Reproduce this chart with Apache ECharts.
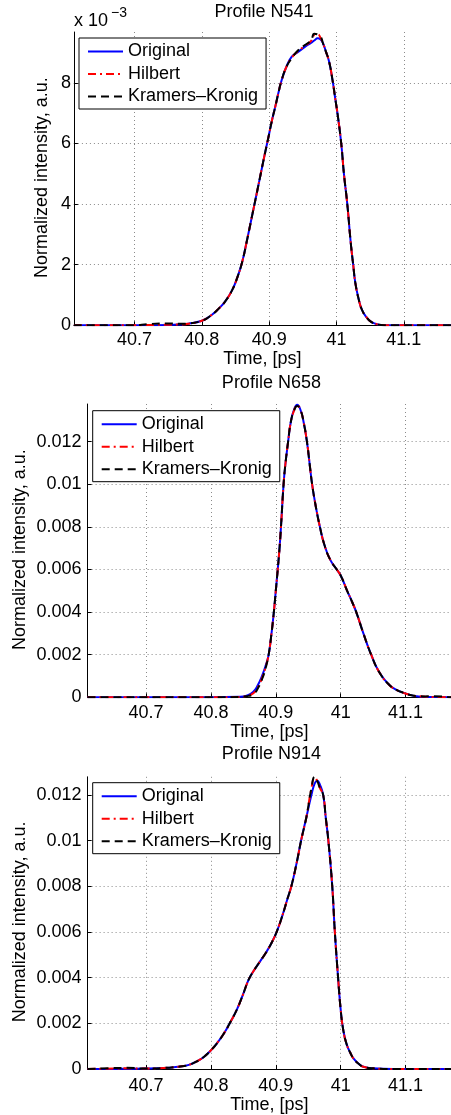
<!DOCTYPE html>
<html><head><meta charset="utf-8">
<script src="https://cdn.jsdelivr.net/npm/echarts@6/dist/echarts.min.js"></script>
<style>html,body{margin:0;padding:0;background:#fff}#c{width:451px;height:1115px}</style>
</head><body><div id="c"></div><script>
// ---------- data ----------
const titles = ['Profile N541', 'Profile N658', 'Profile N914'];
const seriesNames = ['Original', 'Hilbert', 'Kramers–Kronig'];
const xLabel = 'Time, [ps]';
const yLabel = 'Normalized intensity, a.u.';
const xRange = [40.61, 41.17];
const yMax = [9.68e-3, 13.77e-3, 12.79e-3];
const yStep = 0.002;

// Panel 1 (N541)
const t1 = [40.61,40.70,40.72,40.75,40.77,40.78,40.80,40.812,40.825,40.835,40.845,40.853,40.86,40.867,40.874,40.881,40.887,40.893,40.899,40.904,40.909,40.914,40.918,40.925,40.933,40.943,40.953,40.962,40.967,40.972,40.976,40.980,40.984,40.989,40.994,40.998,41.002,41.007,41.011,41.016,41.021,41.025,41.028,41.033,41.038,41.045,41.051,41.058,41.066,41.08,41.17];
const orig1 = [0,0,0.003e-3,0.01e-3,0.03e-3,0.05e-3,0.15e-3,0.3e-3,0.55e-3,0.8e-3,1.16e-3,1.6e-3,2.1e-3,2.8e-3,3.55e-3,4.3e-3,4.95e-3,5.6e-3,6.22e-3,6.75e-3,7.21e-3,7.7e-3,8.05e-3,8.5e-3,8.85e-3,9.02e-3,9.19e-3,9.32e-3,9.4e-3,9.47e-3,9.44e-3,9.3e-3,9.05e-3,8.7e-3,8.1e-3,7.5e-3,6.9e-3,6.0e-3,5.0e-3,4.0e-3,2.75e-3,1.95e-3,1.39e-3,0.85e-3,0.5e-3,0.25e-3,0.12e-3,0.05e-3,0.01e-3,0,0];
const hilb1 = [0,0,0.01e-3,0.02e-3,0.03e-3,0.05e-3,0.15e-3,0.3e-3,0.55e-3,0.8e-3,1.16e-3,1.6e-3,2.1e-3,2.8e-3,3.55e-3,4.3e-3,4.95e-3,5.6e-3,6.22e-3,6.75e-3,7.21e-3,7.7e-3,8.05e-3,8.5e-3,8.82e-3,9.05e-3,9.22e-3,9.38e-3,9.58e-3,9.6e-3,9.5e-3,9.3e-3,9.05e-3,8.7e-3,8.1e-3,7.5e-3,6.9e-3,6.0e-3,5.0e-3,4.0e-3,2.75e-3,1.95e-3,1.39e-3,0.85e-3,0.5e-3,0.25e-3,0.12e-3,0.05e-3,0.01e-3,0,0];
const kk1 = [0,0,0.04e-3,0.06e-3,0.05e-3,0.06e-3,0.15e-3,0.3e-3,0.55e-3,0.8e-3,1.16e-3,1.6e-3,2.1e-3,2.8e-3,3.55e-3,4.3e-3,4.95e-3,5.6e-3,6.22e-3,6.75e-3,7.21e-3,7.7e-3,8.05e-3,8.5e-3,8.8e-3,9.08e-3,9.25e-3,9.4e-3,9.62e-3,9.6e-3,9.55e-3,9.3e-3,9.05e-3,8.7e-3,8.1e-3,7.5e-3,6.9e-3,6.0e-3,5.0e-3,4.0e-3,2.75e-3,1.95e-3,1.39e-3,0.85e-3,0.5e-3,0.25e-3,0.12e-3,0.05e-3,0.01e-3,0,0];

// Panel 2 (N658)
const t2 = [40.61,40.80,40.845,40.855,40.865,40.872,40.880,40.885,40.889,40.893,40.897,40.900,40.903,40.906,40.908,40.912,40.915,40.919,40.923,40.928,40.933,40.938,40.943,40.948,40.952,40.956,40.962,40.968,40.975,40.984,40.994,41.000,41.010,41.018,41.024,41.035,41.047,41.060,41.075,41.086,41.096,41.111,41.12,41.13,41.14,41.17];
const orig2 = [0,0,0.02e-3,0.08e-3,0.25e-3,0.55e-3,1.1e-3,1.55e-3,2.0e-3,2.9e-3,4.0e-3,5.0e-3,6.0e-3,7.1e-3,8.0e-3,10.0e-3,11.0e-3,12.0e-3,12.9e-3,13.5e-3,13.73e-3,13.5e-3,12.9e-3,12.0e-3,11.0e-3,10.0e-3,8.9e-3,8.0e-3,7.15e-3,6.45e-3,6.0e-3,5.72e-3,5.0e-3,4.45e-3,4.0e-3,3.0e-3,2.0e-3,1.15e-3,0.58e-3,0.35e-3,0.22e-3,0.08e-3,0.04e-3,0.02e-3,0.01e-3,0];
const hilb2 = [0,0,0.02e-3,0.06e-3,0.18e-3,0.45e-3,1.0e-3,1.5e-3,2.0e-3,2.9e-3,4.0e-3,5.0e-3,6.0e-3,7.1e-3,8.0e-3,10.0e-3,11.0e-3,12.0e-3,12.9e-3,13.45e-3,13.7e-3,13.5e-3,12.9e-3,12.0e-3,11.0e-3,10.0e-3,8.9e-3,8.0e-3,7.15e-3,6.45e-3,6.0e-3,5.72e-3,5.0e-3,4.45e-3,4.0e-3,3.0e-3,2.0e-3,1.15e-3,0.58e-3,0.35e-3,0.22e-3,0.08e-3,0.05e-3,0.03e-3,0.02e-3,0];
const kk2 = [0,0,0.02e-3,0.05e-3,0.15e-3,0.4e-3,0.95e-3,1.45e-3,2.0e-3,2.9e-3,4.0e-3,5.0e-3,6.0e-3,7.1e-3,8.0e-3,10.0e-3,11.0e-3,12.0e-3,12.9e-3,13.45e-3,13.68e-3,13.5e-3,12.9e-3,12.0e-3,11.0e-3,10.0e-3,8.9e-3,8.0e-3,7.15e-3,6.45e-3,6.0e-3,5.72e-3,5.0e-3,4.45e-3,4.0e-3,3.0e-3,2.0e-3,1.15e-3,0.58e-3,0.35e-3,0.22e-3,0.08e-3,0.06e-3,0.04e-3,0.05e-3,0];

// Panel 3 (N914)
const t3 = [40.61,40.65,40.67,40.70,40.736,40.75,40.766,40.78,40.79,40.801,40.81,40.82,40.829,40.84,40.85,40.858,40.866,40.875,40.885,40.894,40.902,40.910,40.918,40.924,40.932,40.939,40.947,40.955,40.960,40.964,40.968,40.973,40.977,40.981,40.987,40.991,40.996,41.000,41.004,41.009,41.015,41.020,41.028,41.035,41.05,41.08,41.17];
const orig3 = [0,0.005e-3,0.01e-3,0.02e-3,0.06e-3,0.1e-3,0.18e-3,0.36e-3,0.55e-3,0.85e-3,1.15e-3,1.55e-3,2.0e-3,2.6e-3,3.3e-3,3.9e-3,4.3e-3,4.68e-3,5.1e-3,5.55e-3,6.05e-3,6.7e-3,7.45e-3,8.0e-3,9.0e-3,10.0e-3,11.0e-3,12.0e-3,12.5e-3,12.62e-3,12.45e-3,12.0e-3,11.0e-3,10.0e-3,8.0e-3,6.0e-3,4.0e-3,2.6e-3,1.7e-3,1.1e-3,0.7e-3,0.45e-3,0.22e-3,0.1e-3,0.03e-3,0,0];
const hilb3 = [0,0.02e-3,0.03e-3,0.02e-3,0.06e-3,0.1e-3,0.18e-3,0.36e-3,0.55e-3,0.85e-3,1.15e-3,1.55e-3,2.0e-3,2.6e-3,3.3e-3,3.9e-3,4.3e-3,4.68e-3,5.1e-3,5.55e-3,6.05e-3,6.7e-3,7.45e-3,8.0e-3,9.0e-3,10.0e-3,11.0e-3,12.3e-3,12.75e-3,12.6e-3,12.3e-3,12.0e-3,11.0e-3,10.0e-3,8.0e-3,6.0e-3,4.0e-3,2.6e-3,1.7e-3,1.1e-3,0.7e-3,0.45e-3,0.22e-3,0.1e-3,0.03e-3,0,0];
const kk3 = [0,0.04e-3,0.05e-3,0.02e-3,0.06e-3,0.1e-3,0.18e-3,0.36e-3,0.55e-3,0.85e-3,1.15e-3,1.55e-3,2.0e-3,2.6e-3,3.3e-3,3.9e-3,4.3e-3,4.68e-3,5.1e-3,5.55e-3,6.05e-3,6.7e-3,7.45e-3,8.0e-3,9.0e-3,10.0e-3,11.0e-3,12.3e-3,12.79e-3,12.6e-3,12.3e-3,12.0e-3,11.0e-3,10.0e-3,8.0e-3,6.0e-3,4.0e-3,2.6e-3,1.7e-3,1.1e-3,0.7e-3,0.45e-3,0.22e-3,0.1e-3,0.03e-3,0,0];

const panels = [
  {t: t1, vals: [orig1, hilb1, kk1]},
  {t: t2, vals: [orig2, hilb2, kk2]},
  {t: t3, vals: [orig3, hilb3, kk3]}
];

// ---------- layout / style ----------
const FONT = '"Liberation Sans", Arial, Helvetica, sans-serif';
const grids = [
  {left: 73.9, top: 32, width: 380.4, height: 293.3},
  {left: 87.6, top: 404, width: 367.6, height: 293.3},
  {left: 87.6, top: 776.8, width: 367.6, height: 292.2}
];
const xLabelMargin = [5.5, 7, 8];
const xNameGap = [23, 26, 26];
const yLabelMargin = [3, 6, 6];
const yNameX = [42.5, 20.3, 20.3];
const titleY = [11.7, 383.3, 754.5];
const legendPos = [{left: 79, top: 38}, {left: 92.7, top: 410.7}, {left: 92.7, top: 782.7}];
const lineStyles = [
  {color: '#0000ff', width: 2, type: 'solid'},
  {color: '#ff0000', width: 2, type: [8, 4, 2, 4]},
  {color: '#000000', width: 2, type: [8, 5]}
];
const gridLine = {type: [1, 3], color: '#8a8a8a', width: 1};

const option = {
  animation: false,
  backgroundColor: '#fff',
  grid: grids,
  xAxis: grids.map((g, i) => ({
    type: 'value', gridIndex: i, min: xRange[0], max: xRange[1], splitNumber: 5,
    axisLine: {lineStyle: {color: '#000', width: 1}},
    axisTick: {inside: true, length: 4, lineStyle: {color: '#000'}},
    axisLabel: {fontSize: 18, fontFamily: FONT, color: '#000', margin: xLabelMargin[i], showMinLabel: false, showMaxLabel: false},
    splitLine: {show: true, showMinLine: false, showMaxLine: false, lineStyle: gridLine},
    name: xLabel, nameLocation: 'middle', nameGap: xNameGap[i],
    nameTextStyle: {fontSize: 18, fontFamily: FONT, color: '#000'}
  })),
  yAxis: grids.map((g, i) => ({
    type: 'value', gridIndex: i, min: 0, max: yMax[i], interval: yStep,
    axisLine: {show: true, lineStyle: {color: '#000', width: 1}},
    axisTick: {show: true, inside: true, length: 4, lineStyle: {color: '#000'}},
    axisLabel: {fontSize: 18, fontFamily: FONT, color: '#000', margin: yLabelMargin[i], showMaxLabel: false,
      formatter: i === 0 ? (v => String(Math.round(v * 1000))) : null},
    splitLine: {show: true, showMinLine: false, showMaxLine: false, lineStyle: gridLine}
  })),
  legend: legendPos.map(p => ({
    data: seriesNames, orient: 'vertical', left: p.left, top: p.top,
    padding: [4.5, 8, 3.5, 8], itemGap: 4.5, itemWidth: 35, itemHeight: 14,
    backgroundColor: '#fff', borderColor: '#000', borderWidth: 1, borderRadius: 0,
    itemStyle: {opacity: 0},
    textStyle: {fontSize: 18, fontFamily: FONT, color: '#000'},
    selectedMode: false
  })),
  series: [],
  graphic: []
};

panels.forEach((p, i) => {
  seriesNames.forEach((name, k) => {
    option.series.push({
      name: name, type: 'line', xAxisIndex: i, yAxisIndex: i,
      symbol: 'none', showSymbol: false, smooth: 0.5,
      lineStyle: Object.assign({join: 'round', cap: 'butt'}, lineStyles[k]), itemStyle: {color: lineStyles[k].color},
      z: 2 + k,
      data: p.t.map((t, j) => [t, p.vals[k][j]])
    });
  });
  option.graphic.push({
    type: 'text', x: grids[i].left + grids[i].width / 2, y: titleY[i],
    style: {text: titles[i], font: '18px ' + FONT, fill: '#000', align: 'center', verticalAlign: 'middle'}
  });
  option.graphic.push({
    type: 'text', x: yNameX[i], y: grids[i].top + grids[i].height / 2 - 1, rotation: Math.PI / 2,
    style: {text: yLabel, font: '18px ' + FONT, fill: '#000', align: 'center', verticalAlign: 'middle'}
  });
});
option.graphic.push({type: 'text', x: 74, y: 20.8,
  style: {text: 'x 10', font: '18px ' + FONT, fill: '#000', align: 'left', verticalAlign: 'middle'}});
option.graphic.push({type: 'text', x: 111, y: 13.5,
  style: {text: '−3', font: '14px ' + FONT, fill: '#000', align: 'left', verticalAlign: 'middle'}});

const chart = echarts.init(document.getElementById('c'), null, {renderer: 'canvas'});
chart.setOption(option);
</script></body></html>
